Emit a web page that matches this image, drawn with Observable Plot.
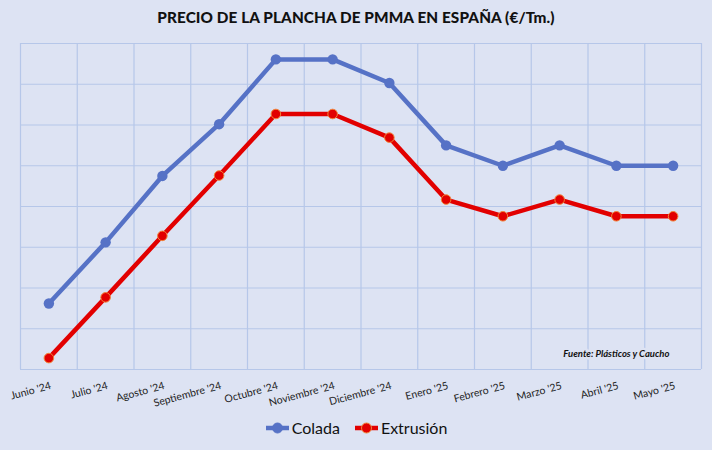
<!DOCTYPE html>
<html>
<head>
<meta charset="utf-8">
<script src="https://cdn.jsdelivr.net/npm/d3@7"></script>
<script src="https://cdn.jsdelivr.net/npm/@observablehq/plot@0.6"></script>
<style>
  html, body { margin: 0; padding: 0; background: #dde3f3; }
  #wrap { position: relative; width: 712px; height: 450px; background: #dde3f3; overflow: hidden; font-family: Lato, "Open Sans", sans-serif; }
  #wrap svg { position: absolute; left: 0; top: 0; }
  #title { position: absolute; top: 8px; left: 0; width: 712px; text-align: center; font-weight: 900; font-size: 15.3px; color: #111; letter-spacing: 0.1px; }
  #legend { position: absolute; top: 418px; left: 0; width: 712px; display: flex; justify-content: center; gap: 14px; font-size: 16px; color: #111; }
  .item { display: flex; align-items: center; gap: 2px; }
</style>
</head>
<body>
<div id="wrap">
  <div id="chart"></div>
  <div id="title">PRECIO DE LA PLANCHA DE PMMA EN ESPAÑA (€/Tm.)</div>
  <div id="legend"></div>
</div>
<script>
const months = ["Junio '24","Julio '24","Agosto '24","Septiembre '24","Octubre '24","Noviembre '24","Diciembre '24","Enero '25","Febrero '25","Marzo '25","Abril '25","Mayo '25"];
const colada = [3162, 3312, 3475, 3602, 3761, 3761, 3703, 3550, 3500, 3550, 3500, 3500];
const extrusion = [3028, 3177, 3328, 3476, 3627, 3627, 3569, 3417, 3376, 3417, 3376, 3376];
const yTicks = [3000, 3100, 3200, 3300, 3400, 3500, 3600, 3700, 3800];
const seriesNames = ["Colada", "Extrusión"];
const source = "Fuente: Plásticos y Caucho";

const blue = "#5672c6", red = "#e20000", redEdge = "#f2863a";
const grid = "#b6c7e9";

const data = [];
months.forEach((m, i) => {
  data.push({i, month: m, serie: seriesNames[0], v: colada[i]});
  data.push({i, month: m, serie: seriesNames[1], v: extrusion[i]});
});
const bounds = months.map((m, i) => i - 0.5).concat([months.length - 0.5]);
const yMin = yTicks[0], yMax = yTicks[yTicks.length - 1];

const plot = Plot.plot({
  width: 712, height: 450,
  marginTop: 43, marginBottom: 81, marginLeft: 20, marginRight: 11,
  style: {background: "transparent", fontFamily: "Lato, 'Open Sans', sans-serif"},
  x: {type: "linear", domain: [-0.5, months.length - 0.5], axis: null},
  y: {domain: [yMin, yMax], axis: null},
  marks: [
    Plot.ruleY(yTicks, {stroke: grid, strokeWidth: 1.2}),
    Plot.ruleX(bounds, {stroke: grid, strokeWidth: 1.2}),
    Plot.text([source], {x: months.length - 2, y: yMin, dy: -16, text: d => d, fontStyle: "italic", fontWeight: "bold", fontSize: 9.5, textAnchor: "middle", fill: "#111", stroke: "#dde3f3", strokeWidth: 5}),
    Plot.line(data.filter(d => d.serie === seriesNames[0]), {x: "i", y: "v", stroke: blue, strokeWidth: 4.5}),
    Plot.line(data.filter(d => d.serie === seriesNames[1]), {x: "i", y: "v", stroke: red, strokeWidth: 4.5}),
    Plot.dot(data.filter(d => d.serie === seriesNames[0]), {x: "i", y: "v", r: 5.2, fill: blue}),
    Plot.dot(data.filter(d => d.serie === seriesNames[1]), {x: "i", y: "v", r: 4.8, fill: red, stroke: redEdge, strokeWidth: 1}),
    Plot.text(months, {x: (d, i) => i, y: yMin, text: d => d, rotate: -15, textAnchor: "end", dy: 16, dx: 2, fontSize: 10.5, fill: "#222"})
  ]
});
document.getElementById("chart").appendChild(plot);

const legend = document.getElementById("legend");
[[seriesNames[0], blue, blue], [seriesNames[1], red, redEdge]].forEach(([name, c, e]) => {
  const it = document.createElement("div");
  it.className = "item";
  it.innerHTML = `<svg width="25" height="14" style="position:static"><line x1="1" x2="24" y1="7" y2="7" stroke="${c}" stroke-width="4.5"/><circle cx="12.5" cy="7" r="5" fill="${c}" stroke="${e}" stroke-width="1"/></svg><span>${name}</span>`;
  legend.appendChild(it);
});
</script>
</body>
</html>
